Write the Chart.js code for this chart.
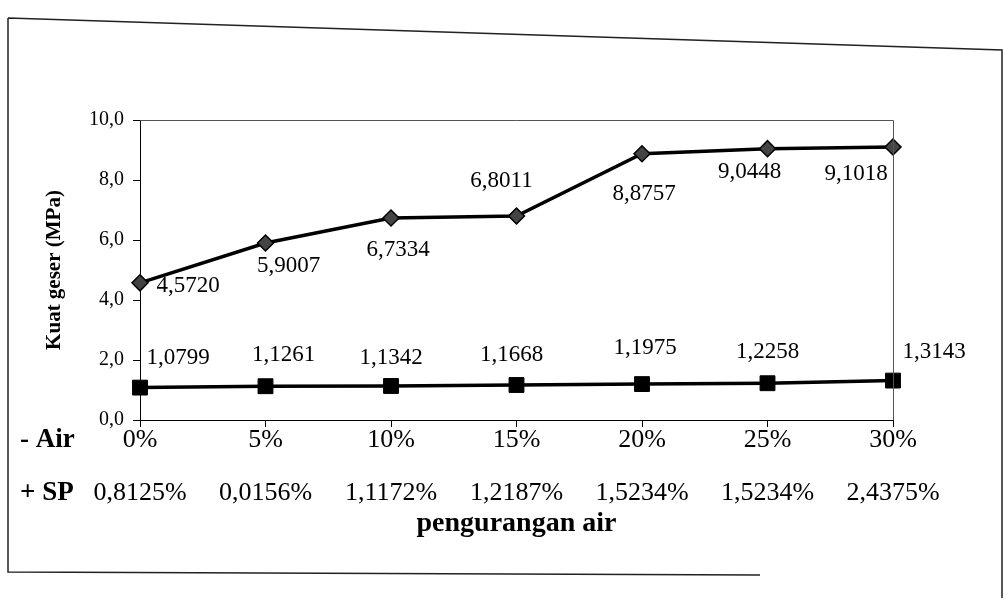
<!DOCTYPE html>
<html>
<head>
<meta charset="utf-8">
<script src="https://cdn.jsdelivr.net/npm/chart.js@4.4.1/dist/chart.umd.min.js"></script>
<style>
  html, body { margin: 0; background: #fff; }
</style>
</head>
<body>
<canvas id="kuatGeser" width="1004" height="600"></canvas>
<script>
// kategori pengurangan air dan penambahan superplasticizer
const airLabels = ["0%", "5%", "10%", "15%", "20%", "25%", "30%"];
const spLabels = ["0,8125%", "0,0156%", "1,1172%", "1,2187%", "1,5234%", "1,5234%", "2,4375%"];

// kuat geser (MPa)
const upperValues = [4.5720, 5.9007, 6.7334, 6.8011, 8.8757, 9.0448, 9.1018];
const lowerValues = [1.0799, 1.1261, 1.1342, 1.1668, 1.1975, 1.2258, 1.3143];

const yTicks = [0, 2, 4, 6, 8, 10];

// posisi label angka terhadap titik (px)
const upperLabelShift = [[48, 3], [23, 23], [7, 32], [-15, -35], [2, 40], [-18, 23], [-37, 27]];
const lowerLabelShift = [[38, -30], [18, -31], [0, -28], [-5, -30], [3, -36], [0, -31], [41, -29]];

const SERIF = "'Liberation Serif', 'Times New Roman', serif";
Chart.defaults.font.family = SERIF;
Chart.defaults.color = "#000";

const koma = (v, d) => v.toFixed(d).replace(".", ",");

const decorPlugin = {
    id: "decor",
    afterDraw(chart) {
        const { ctx, chartArea } = chart;
        ctx.save();

        // garis atas dan kanan area plot
        ctx.strokeStyle = "#555";
        ctx.lineWidth = 1;
        ctx.beginPath();
        ctx.moveTo(chartArea.left, chartArea.top + 0.5);
        ctx.lineTo(chartArea.right + 0.5, chartArea.top + 0.5);
        ctx.lineTo(chartArea.right + 0.5, chartArea.bottom);
        ctx.stroke();

        // label nilai
        ctx.fillStyle = "#000";
        ctx.font = "23px " + SERIF;
        ctx.textAlign = "center";
        ctx.textBaseline = "middle";
        const shifts = [upperLabelShift, lowerLabelShift];
        chart.data.datasets.forEach((ds, di) => {
            const meta = chart.getDatasetMeta(di);
            meta.data.forEach((pt, i) => {
                const [dx, dy] = shifts[di][i];
                ctx.fillText(koma(ds.data[i], 4), pt.x + dx, pt.y + dy);
            });
        });

        // judul baris di bawah sumbu x
        ctx.font = "bold 27px " + SERIF;
        ctx.textAlign = "left";
        ctx.fillText("- Air", 20, chartArea.bottom + 20);
        ctx.fillText("+ SP", 20, chartArea.bottom + 73);

        // bingkai luar
        ctx.strokeStyle = "#222";
        ctx.lineWidth = 1.5;
        ctx.beginPath();
        ctx.moveTo(8, 18);
        ctx.lineTo(1002, 50);
        ctx.lineTo(1002, 598);
        ctx.moveTo(8, 18);
        ctx.lineTo(8, 572);
        ctx.lineTo(760, 575);
        ctx.stroke();

        ctx.restore();
    },
};

new Chart(document.getElementById("kuatGeser"), {
    type: "line",
    data: {
        labels: airLabels.map((a, i) => [a, spLabels[i]]),
        datasets: [
            {
                label: "atas",
                data: upperValues,
                borderColor: "#000",
                borderWidth: 3.5,
                pointStyle: "rectRot",
                pointRadius: 8,
                pointBackgroundColor: "#444",
                pointBorderColor: "#000",
                pointBorderWidth: 1.5,
                tension: 0,
            },
            {
                label: "bawah",
                data: lowerValues,
                borderColor: "#000",
                borderWidth: 3.5,
                pointStyle: "rect",
                pointRadius: 10.5,
                pointBackgroundColor: "#000",
                pointBorderColor: "#000",
                pointBorderWidth: 1,
                tension: 0,
            },
        ],
    },
    options: {
        responsive: false,
        animation: false,
        layout: { padding: { top: 120, right: 111, bottom: 30, left: 0 } },
        plugins: {
            legend: { display: false },
            tooltip: { enabled: false },
        },
        scales: {
            x: {
                offset: false,
                grid: { drawOnChartArea: false, tickLength: 7, color: "#000", offset: false },
                border: { color: "#000", width: 1 },
                ticks: {
                    autoSkip: false,
                    maxRotation: 0,
                    padding: -13,
                    font: { size: 26, lineHeight: 2.04 },
                    color: "#000",
                },
                title: {
                    display: true,
                    text: "pengurangan air",
                    font: { size: 28, weight: "bold" },
                    padding: { top: 0, bottom: 29 },
                    color: "#000",
                },
                afterFit: (s) => { s.height = 150; },
            },
            y: {
                min: 0,
                max: 10,
                afterBuildTicks: (s) => { s.ticks = yTicks.map((v) => ({ value: v })); },
                grid: { drawOnChartArea: false, tickLength: 7, color: "#000" },
                border: { color: "#000", width: 1 },
                ticks: {
                    padding: 9,
                    font: { size: 20 },
                    color: "#000",
                    callback: (v) => koma(v, 1),
                },
                title: {
                    display: true,
                    text: "Kuat geser (MPa)",
                    font: { size: 21, weight: "bold" },
                    padding: { top: 42, bottom: 0 },
                    color: "#000",
                },
                afterFit: (s) => { s.width = 140; },
            },
        },
    },
    plugins: [decorPlugin],
});
</script>
</body>
</html>
